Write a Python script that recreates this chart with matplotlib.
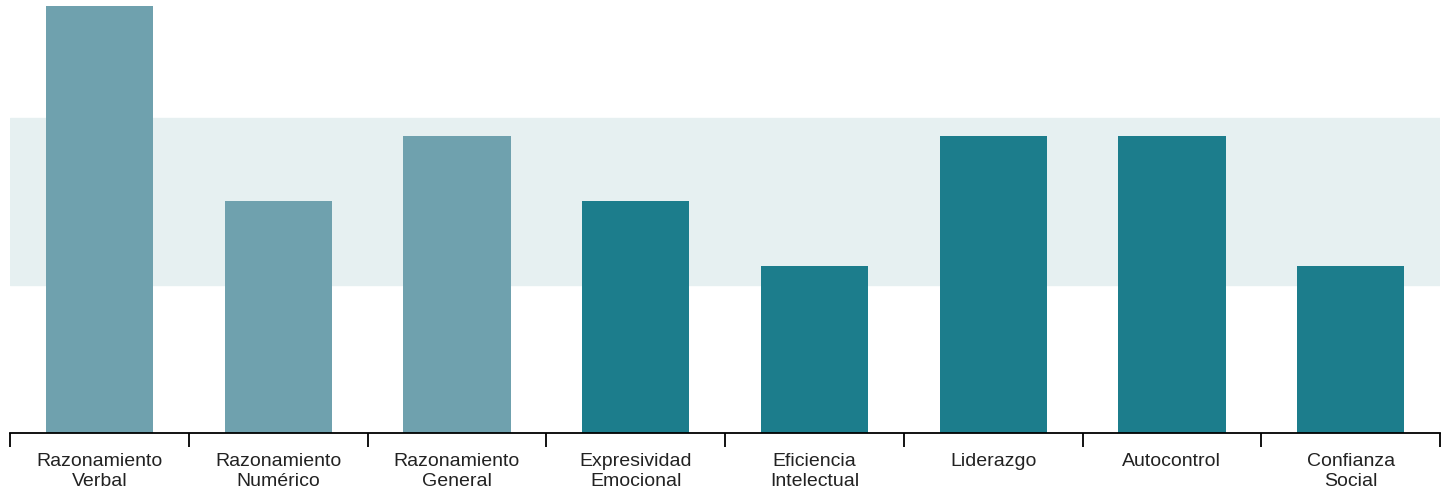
import matplotlib.pyplot as plt
import numpy as np

categories = ["Razonamiento\nVerbal", "Razonamiento\nNumérico", "Razonamiento\nGeneral",
              "Expresividad\nEmocional", "Eficiencia\nIntelectual", "Liderazgo",
              "Autocontrol", "Confianza\nSocial"]
values = [7, 4, 5, 4, 3, 5, 5, 3]
colors = ["#6FA1AE", "#6FA1AE", "#6FA1AE", "#1C7D8C", "#1C7D8C", "#1C7D8C", "#1C7D8C", "#1C7D8C"]
band = (2.71, 5.29)

plt.rcParams['font.family'] = ['Liberation Sans', 'DejaVu Sans']

fig = plt.figure(figsize=(14.51, 4.93), dpi=100)
ax = fig.add_axes([10 / 1451, 60 / 493, 1430 / 1451, 433 / 493])

x = np.arange(len(categories))
ax.axhspan(band[0], band[1], color="#E6F0F1", zorder=0)
ax.bar(x, values, width=0.6, color=colors, zorder=2)

ax.set_xlim(-0.5, len(categories) - 0.5)
ax.set_ylim(0.43, 7.1)

for s in ["top", "right", "left"]:
    ax.spines[s].set_visible(False)
ax.spines["bottom"].set_linewidth(1.3)
ax.set_yticks([])

ax.set_xticks(np.arange(len(categories) + 1) - 0.5)
ax.set_xticklabels([])
ax.tick_params(axis="x", length=10, width=1.3, direction="out")
ax.set_xticks(x, minor=True)
ax.set_xticklabels(categories, minor=True, fontsize=14, linespacing=1.2, color="#222222")
ax.tick_params(axis="x", which="minor", length=0, pad=14.5)

fig.savefig("out.png", dpi=100)
